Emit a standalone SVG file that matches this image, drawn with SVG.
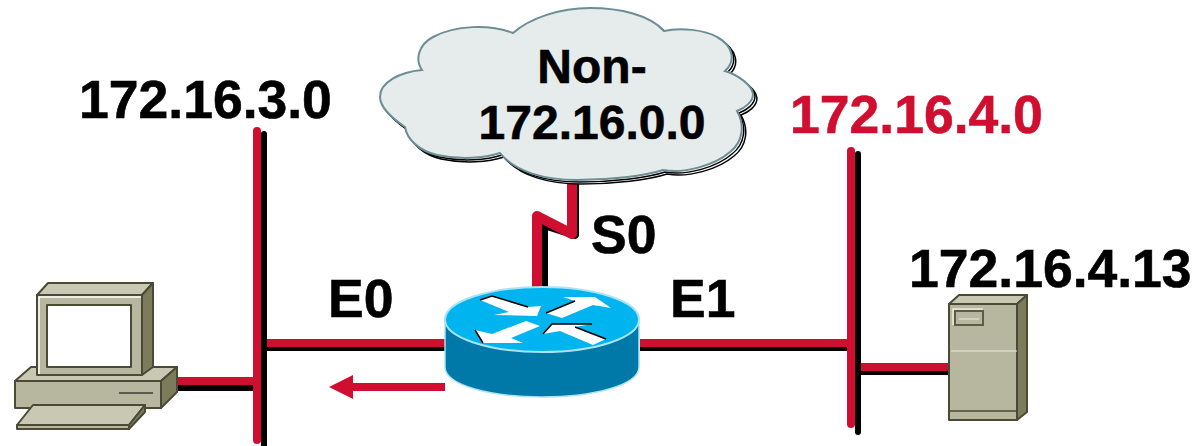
<svg xmlns="http://www.w3.org/2000/svg" width="1196" height="446" viewBox="0 0 1196 446">
<style>
.t{font-family:"Liberation Sans",Arial,sans-serif;font-weight:700;font-size:53.5px;fill:#000;stroke:#000;stroke-width:.6}
.c{font-size:48px}
.red{fill:#cf0e30;stroke:#cf0e30}
.r{fill:#cf0e30}.k{fill:#000}
.rl{fill:none;stroke:#cf0e30;stroke-width:10;stroke-linejoin:round;stroke-linecap:butt}
.kl{fill:none;stroke:#000;stroke-width:8;stroke-linejoin:round;stroke-linecap:butt}
.e{stroke:#4a4a35;stroke-width:2;stroke-linejoin:round}
.f{fill:#b7b69e}.u{fill:#c9c8b3}.s{fill:#7c7c5c}
.b{fill:none;stroke:#000;stroke-width:1.5}
</style>
<defs>
<path id="cl" d="M513 33C530 18 560 8 590 8C620 8 650 15 664 31C680 27 705 30 717 37C732 45 737 60 725 71C738 75 752 85 753 94C753 102 745 108 737 111C745 125 743 142 730 152C715 165 685 174 663 170C645 176 610 180 577 180C545 180 515 172 500 153C485 158 460 160 437 155C420 151 407 140 405 127C392 118 380 108 380 97C380 82 400 72 422 70C415 60 418 45 433 37C455 25 490 24 513 33Z"/>
</defs>
<g id="connectors">
<rect class="k" x="261" y="134" width="6" height="312"/>
<circle class="k" cx="264" cy="134" r="3"/>
<rect class="r" x="253" y="131" width="8" height="309"/>
<circle class="r" cx="257" cy="131" r="4"/>
<circle class="r" cx="257" cy="440" r="4"/>
<rect class="k" x="855" y="154" width="6" height="278"/>
<circle class="k" cx="858" cy="154" r="3"/>
<circle class="k" cx="858" cy="432" r="3"/>
<rect class="r" x="847" y="151" width="8" height="273"/>
<circle class="r" cx="851" cy="151" r="4"/>
<circle class="r" cx="851" cy="424" r="4"/>
<rect class="r" x="267" y="339" width="178" height="8"/>
<rect class="k" x="267" y="347" width="178" height="4"/>
<rect class="r" x="640" y="339" width="207" height="8"/>
<rect class="k" x="640" y="347" width="207" height="4"/>
<rect class="r" x="177" y="377" width="76" height="8"/>
<rect class="k" x="177" y="385" width="76" height="6"/>
<rect class="r" x="861" y="363" width="89" height="8"/>
<rect class="k" x="861" y="371" width="89" height="4"/>
<path class="kl" d="M544 290V225L575 235V178"/>
<path class="rl" d="M537 290V216L572 234V178"/>
<path class="r" d="M445 383H353V375L329 387L353 399V391H445Z"/>
</g>
<g id="cloud">
<use href="#cl" fill="#fff" stroke="#000" stroke-width="1.5" transform="translate(4,4)"/>
<use href="#cl" fill="#fff" stroke="#000" stroke-width="1.5" transform="translate(2,2)"/>
<use href="#cl" fill="#e6ebeb" stroke="#6b8e94" stroke-width="2"/>
<text class="t c" x="592" y="83" text-anchor="middle">Non-</text>
<text class="t c" x="592" y="139" text-anchor="middle">172.16.0.0</text>
</g>
<g id="router">
<path d="M445 319V367C445 385 490 397 542 397S639 385 639 367V319Z" fill="#0078a8" stroke="#a9e3f5" stroke-width="1.5"/>
<ellipse cx="542" cy="319.500" rx="97" ry="32.500" fill="#00b5ef" stroke="#a9e3f5" stroke-width="2"/>
<g fill="#fff">
<polygon points="480,300 492,296 528,307 541,306 537,316 494,315 509,312"/>
<polygon points="546,313 575,301 563,297 595,297 611,308 593,305 562,318"/>
<polygon points="475,330 492,334 526,321 540,326 511,338 523,343 483,343"/>
<polygon points="543,334 552,324 592,324 575,327 606,339 593,345 560,331"/>
</g>
<path class="b" d="M480 300L492 296L528 307M546 313L575 301M475 330L483 343M543 334L552 324H592M575 327L606 339"/>
</g>
<g id="pc">
<polygon class="k" points="37,375 142,375 153,367 147,381 40,381"/>
<polygon class="e u" points="15,381 31,367 177,367 161,381"/>
<polygon class="e s" points="161,381 177,367 177,392 161,408"/>
<rect class="e f" x="15" y="381" width="146" height="27"/>
<line x1="119" y1="393" x2="153" y2="393" stroke="#000" stroke-width="1"/>
<polygon class="e u" points="48,283 153,283 142,295 37,295"/>
<polygon class="e s" points="142,295 153,283 153,367 142,375"/>
<rect class="e f" x="37" y="295" width="105" height="80"/>
<path d="M39 374V297H141" fill="none" stroke="#fff" stroke-width="1.500"/>
<rect class="e" x="47" y="305" width="84" height="62" fill="#fff"/>
<polygon class="e u" points="33,405 145,405 129,425 17,425"/>
<polygon class="e f" points="17,425 129,425 129,429 17,429"/>
<polygon class="e s" points="129,425 145,405 145,412 129,429"/>
</g>
<g id="server">
<polygon class="e u" points="949,304 959,295 1027,295 1017,304"/>
<polygon class="e s" points="1017,304 1027,295 1027,412 1017,420"/>
<rect class="e f" x="949" y="304" width="68" height="116"/>
<path d="M953 325V309H983" fill="none" stroke="#eeeee4" stroke-width="1.500"/>
<rect x="955" y="311" width="28" height="14" fill="#b7b69e" stroke="#5c5c44" stroke-width="2"/>
<line x1="959" y1="319" x2="979" y2="319" stroke="#eeeee4" stroke-width="1"/>
<line x1="951" y1="351" x2="1017" y2="351" stroke="#eeeee4" stroke-width="1"/>
<line x1="949" y1="411" x2="1017" y2="411" stroke="#4a4a35" stroke-width="1.500"/>
</g>
<g id="labels">
<text class="t" x="79" y="118">172.16.3.0</text>
<text class="t red" x="790" y="133">172.16.4.0</text>
<text class="t" x="909" y="287">172.16.4.13</text>
<text class="t" x="328" y="317">E0</text>
<text class="t" x="670" y="317">E1</text>
<text class="t" x="591" y="253">S0</text>
</g>
</svg>
